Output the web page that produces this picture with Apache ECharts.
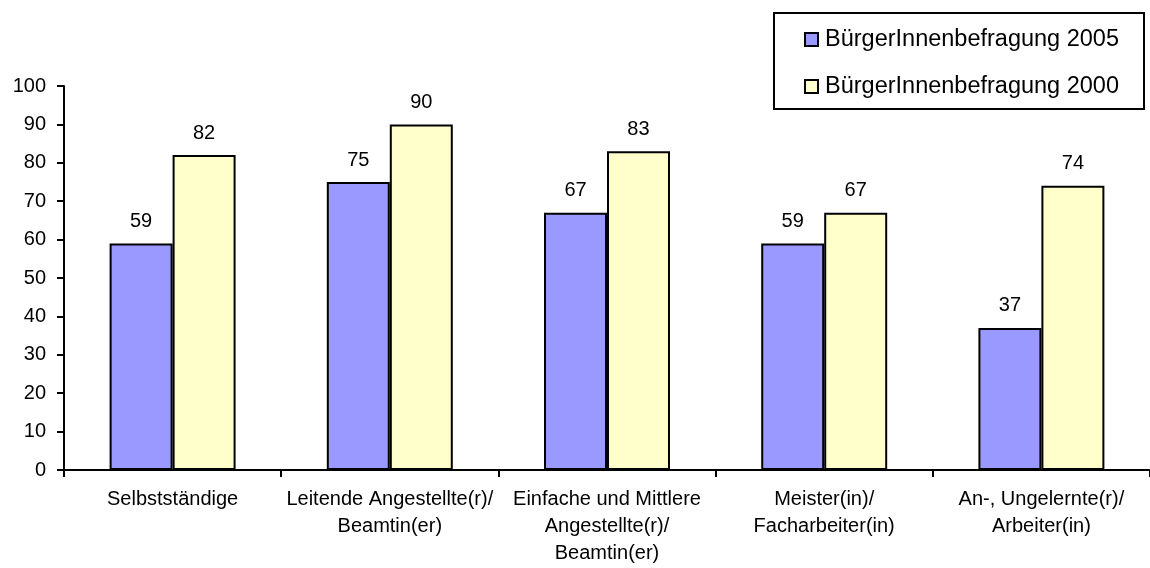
<!DOCTYPE html>
<html>
<head>
<meta charset="utf-8">
<script src="https://cdn.jsdelivr.net/npm/echarts@6/dist/echarts.min.js"></script>
<style>
  html, body { margin: 0; padding: 0; background: #fff; }
  #chart { width: 1150px; height: 568px; }
</style>
</head>
<body>
<div id="chart"></div>
<script>
// Occupational groups along the x axis
const categories = [
  'Selbstständige',
  'Leitende Angestellte(r)/\nBeamtin(er)',
  'Einfache und Mittlere\nAngestellte(r)/\nBeamtin(er)',
  'Meister(in)/\nFacharbeiter(in)',
  'An-, Ungelernte(r)/\nArbeiter(in)'
];
// Survey results per year
const survey2005 = [59, 75, 67, 59, 37];
const survey2000 = [82, 90, 83, 67, 74];
const seriesNames = ['BürgerInnenbefragung 2005', 'BürgerInnenbefragung 2000'];
// Value axis range
const yMin = 0, yMax = 100, yStep = 10;

const FONT = '"Liberation Sans", Arial, sans-serif';

const chart = echarts.init(document.getElementById('chart'), null, { renderer: 'canvas' });

const labelStyle = {
  show: true,
  position: 'top',
  distance: 12,
  color: '#000',
  fontSize: 20,
  fontFamily: FONT
};

chart.setOption({
  animation: false,
  backgroundColor: '#fff',
  grid: { left: 64, right: 0, top: 86, bottom: 98, containLabel: false },
  graphic: [{
    type: 'rect',
    shape: { x: 774, y: 13, width: 370, height: 96 },
    style: { fill: '#fff', stroke: '#000', lineWidth: 2 },
    z: 0
  }],
  legend: {
    orient: 'vertical',
    left: 792,
    top: 14,
    padding: [12, 0, 10, 12],
    itemGap: 20,
    itemWidth: 13,
    itemHeight: 13,
    icon: 'rect',
    textStyle: { fontSize: 23.5, fontFamily: FONT, color: '#000', lineHeight: 27, padding: [0, 0, 0, 2] },
    z: 5
  },
  xAxis: {
    type: 'category',
    data: categories,
    axisLine: { lineStyle: { color: '#000', width: 2 } },
    axisTick: { show: true, length: 7, lineStyle: { color: '#000', width: 2 } },
    axisLabel: { color: '#000', fontSize: 20, fontFamily: FONT, lineHeight: 27, margin: 16, interval: 0 },
    splitLine: { show: false }
  },
  yAxis: {
    type: 'value',
    min: yMin,
    max: yMax,
    interval: yStep,
    axisLine: { show: true, lineStyle: { color: '#000', width: 2 } },
    axisTick: { show: true, length: 7, lineStyle: { color: '#000', width: 2 } },
    axisLabel: { color: '#000', fontSize: 20, fontFamily: FONT, margin: 18 },
    splitLine: { show: false }
  },
  series: [
    {
      name: seriesNames[0],
      type: 'bar',
      data: survey2005,
      barGap: '0%',
      barCategoryGap: '42%',
      itemStyle: { color: '#9999FF', borderColor: '#000', borderWidth: 2 },
      label: labelStyle
    },
    {
      name: seriesNames[1],
      type: 'bar',
      data: survey2000,
      barGap: '0%',
      barCategoryGap: '42%',
      itemStyle: { color: '#FFFFCC', borderColor: '#000', borderWidth: 2 },
      label: labelStyle
    }
  ]
});
</script>
</body>
</html>
